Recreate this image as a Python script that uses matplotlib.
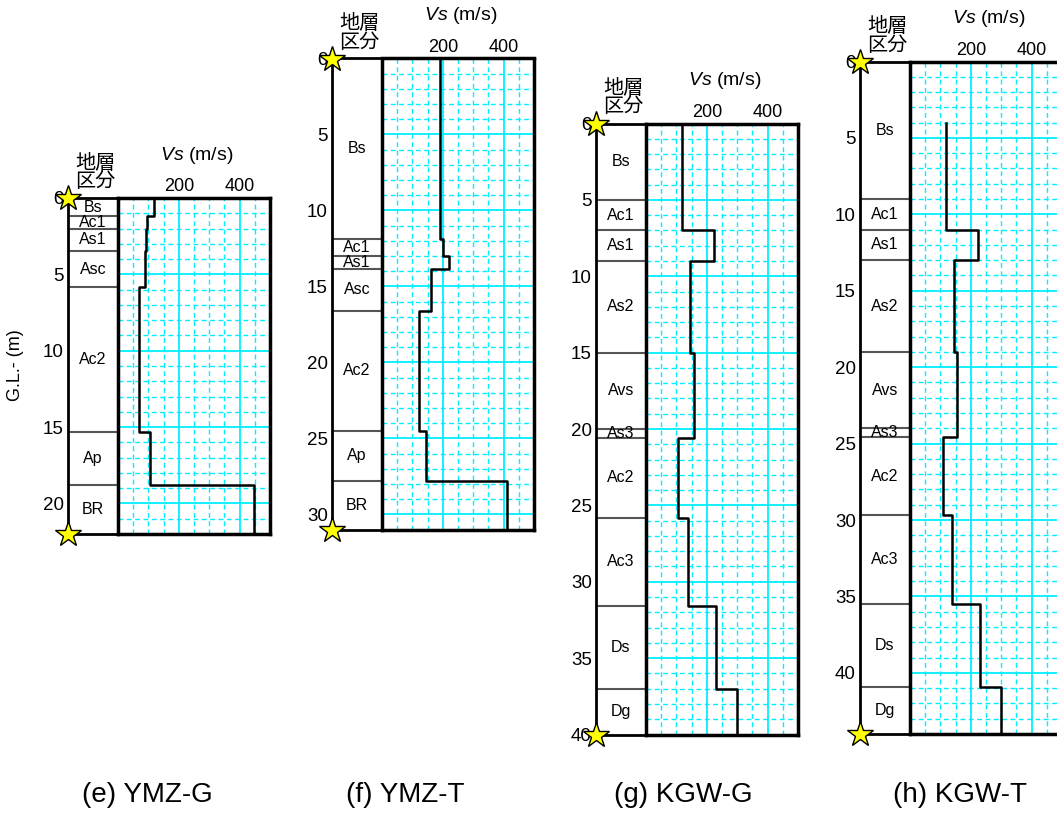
import numpy as np
import matplotlib.pyplot as plt

plt.rcParams['font.family'] = ['Liberation Sans', 'Noto Sans CJK JP', 'DejaVu Sans']
plt.rcParams['mathtext.fontset'] = 'custom'
plt.rcParams['mathtext.it'] = 'Liberation Sans:italic'
plt.rcParams['mathtext.rm'] = 'Liberation Sans'

# ---- data (depth in m, Vs in m/s) ----
e_layers = ['Bs', 'Ac1', 'As1', 'Asc', 'Ac2', 'Ap', 'BR']
e_bounds = [0, 1.2, 2.0, 3.5, 5.8, 15.3, 18.8, 22]
e_vs_depth = [0, 1.2, 2.0, 3.5, 5.8, 15.3, 18.8, 22]
e_vs = [120, 95, 92, 90, 70, 106, 446]

f_layers = ['Bs', 'Ac1', 'As1', 'Asc', 'Ac2', 'Ap', 'BR']
f_bounds = [0, 11.9, 13.0, 13.85, 16.6, 24.5, 27.8, 31]
f_vs_depth = [0, 11.9, 13.0, 13.85, 16.6, 24.5, 27.8, 31]
f_vs = [190, 200, 220, 160, 121, 146, 412]

g_layers = ['Bs', 'Ac1', 'As1', 'As2', 'Avs', 'As3', 'Ac2', 'Ac3', 'Ds', 'Dg']
g_bounds = [0, 5, 7, 9, 15, 20, 20.6, 25.8, 31.6, 37, 40]
g_vs_depth = [0, 7, 9, 15, 20.6, 25.8, 31.6, 37, 40]
g_vs = [117, 223, 146, 157, 106, 137, 230, 300]

h_layers = ['Bs', 'Ac1', 'As1', 'As2', 'Avs', 'As3', 'Ac2', 'Ac3', 'Ds', 'Dg']
h_bounds = [0, 9, 11, 13, 19, 24, 24.6, 29.7, 35.5, 40.9, 44]
h_vs_depth = [4, 11, 13, 19, 24.6, 29.7, 35.5, 40.9, 44]
h_vs = [118, 223, 146, 156, 107, 138, 230, 300]

captions = ['(e) YMZ-G', '(f) YMZ-T', '(g) KGW-G', '(h) KGW-T']

W, H = 1057, 832
fig = plt.figure(figsize=(W / 100, H / 100), dpi=100)
CYAN = '#00EEFF'


def rect(x0, x1, ytop, ybot):
    return [x0 / W, 1 - ybot / H, (x1 - x0) / W, (ybot - ytop) / H]


def draw_panel(x0, ytop, ybot, layers, bounds, vs_depth, vs, caption, cap_x):
    dmax = bounds[-1]
    xs = x0 + 50
    xr = xs + 152
    hpx = ybot - ytop

    # strata column
    ax = fig.add_axes(rect(x0, xs, ytop, ybot))
    ax.set_xlim(0, 1)
    ax.set_ylim(dmax, 0)
    for s in ax.spines.values():
        s.set_linewidth(2)
    ax.set_xticks([])
    ax.set_yticks(np.arange(0, dmax + 0.01, 5))
    ax.tick_params(axis='y', length=0, pad=3, labelsize=13.5)
    ax.hlines(bounds[1:-1], 0, 1, color='#555555', lw=1.5)
    for name, a, b in zip(layers, bounds[:-1], bounds[1:]):
        ax.text(0.5, (a + b) / 2, name, ha='center', va='center', fontsize=11.5)
    ax.text(0.55, 1.0 + 7 / hpx, '地層\n区分', transform=ax.transAxes,
            ha='center', va='bottom', fontsize=14.5, linespacing=0.95)
    ax.plot([0, 0], [0, dmax], ls='none', marker='*', ms=19,
            mfc='#FFFF00', mec='black', mew=1, clip_on=False, zorder=10)

    # Vs profile
    av = fig.add_axes(rect(xs, xr, ytop, ybot))
    av.set_xlim(0, 500)
    av.set_ylim(dmax, 0)
    av.set_xticks([200, 400])
    av.set_xticks([50, 100, 150, 250, 300, 350, 450], minor=True)
    av.set_yticks(np.arange(5, dmax, 5))
    av.set_yticks([d for d in np.arange(1, dmax, 1) if d % 5], minor=True)
    av.xaxis.tick_top()
    av.tick_params(which='both', length=0)
    av.tick_params(axis='x', labelsize=13, pad=2)
    av.tick_params(axis='y', labelleft=False)
    av.grid(which='minor', color=CYAN, ls=(0, (3.5, 2.5)), lw=1.0)
    av.grid(which='major', color=CYAN, ls='-', lw=1.3)
    av.set_axisbelow(True)
    for s in av.spines.values():
        s.set_linewidth(2.5)
        s.set_zorder(5)
    px, py = [], []
    for v, a, b in zip(vs, vs_depth[:-1], vs_depth[1:]):
        px += [v, v]
        py += [a, b]
    av.plot(px, py, color='black', lw=1.8, zorder=4)
    av.text(0.52, 1.0 + 43 / hpx, '$Vs$ (m/s)', transform=av.transAxes,
            ha='center', va='center', fontsize=14)

    fig.text(cap_x / W, 1 - 795 / H, caption, ha='center', va='center', fontsize=20)


draw_panel(68, 198, 534, e_layers, e_bounds, e_vs_depth, e_vs, captions[0], 147)
draw_panel(332, 58.5, 529.5, f_layers, f_bounds, f_vs_depth, f_vs, captions[1], 405)
draw_panel(596, 123.5, 734.5, g_layers, g_bounds, g_vs_depth, g_vs, captions[2], 683)
draw_panel(860, 61.5, 734, h_layers, h_bounds, h_vs_depth, h_vs, captions[3], 960)

fig.text(15 / W, 1 - 365 / H, 'G.L.- (m)', rotation=90, ha='center', va='center',
         fontsize=13)

fig.savefig('out.png', dpi=100)
